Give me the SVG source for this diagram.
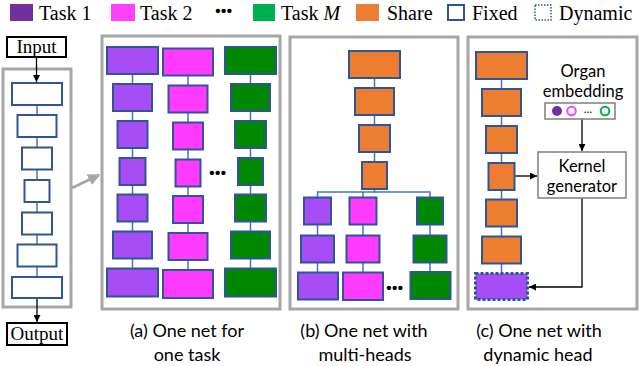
<svg xmlns="http://www.w3.org/2000/svg" width="640" height="366" viewBox="0 0 640 366">
<style>
.lg{font-family:"Liberation Serif","Times New Roman",serif;font-size:20px;fill:#000}
.io{font-family:"Liberation Serif","Times New Roman",serif;font-size:19px;fill:#000}
.cap{font-family:Lato,"Open Sans",sans-serif;font-size:18px;fill:#000;text-anchor:middle}
.lab{font-family:Lato,"Open Sans",sans-serif;font-size:16.5px;fill:#000;text-anchor:middle}
.dots{font-family:"Liberation Sans",Arial,sans-serif;font-size:15px;font-weight:bold;fill:#000;text-anchor:middle;letter-spacing:0.5px}
.panel{fill:none;stroke:#A6A6A6;stroke-width:3}
.blk{fill:#fff;stroke:#2F5597;stroke-width:2}
.p{fill:#A64DF5;stroke:#2F5597;stroke-width:2}
.m{fill:#FF3BFF;stroke:#2F5597;stroke-width:2}
.g{fill:#008800;stroke:#2F5597;stroke-width:2}
.o{fill:#ED7D31;stroke:#2F5597;stroke-width:2}
.con{fill:none;stroke:#4472C4;stroke-width:1.5}
.arr{fill:none;stroke:#000;stroke-width:1.3;marker-end:url(#ah)}
.gbox{fill:#fff;stroke:#7F7F7F;stroke-width:1.5}
</style>
<defs>
<marker id="ah" viewBox="0 0 10 10" refX="10" refY="5" markerWidth="7" markerHeight="7" markerUnits="userSpaceOnUse" orient="auto">
<path d="M0,0 L10,5 L0,10 z" fill="#000"/>
</marker>
<marker id="gah" viewBox="0 0 10 10" refX="9" refY="5" markerWidth="4" markerHeight="4" orient="auto">
<path d="M0,0 L10,5 L0,10 z" fill="#A6A6A6"/>
</marker>
</defs>

<g id="legend">
<rect x="10" y="4" width="23" height="17" fill="#7030A0"/>
<text class="lg" x="39" y="20">Task 1</text>
<rect x="111" y="4" width="24" height="17" fill="#FF40FF"/>
<text class="lg" x="140" y="20">Task 2</text>
<text class="dots" x="224" y="16">•••</text>
<rect x="253" y="4" width="22" height="17" fill="#00B050"/>
<text class="lg" x="281" y="20">Task <tspan font-style="italic">M</tspan></text>
<rect x="356" y="4" width="23" height="17" fill="#ED7D31"/>
<text class="lg" x="387" y="20">Share</text>
<rect x="448" y="5" width="16" height="15" fill="none" stroke="#2F5597" stroke-width="2"/>
<text class="lg" x="472" y="20">Fixed</text>
<rect x="535" y="5" width="16" height="15" fill="none" stroke="#2F5597" stroke-width="1.5" stroke-dasharray="1.5 1.5"/>
<text class="lg" x="559" y="20">Dynamic</text>
</g>

<g id="panels">
<rect class="panel" x="3" y="69" width="68" height="238"/>
<rect class="panel" x="102" y="36" width="178" height="273"/>
<rect class="panel" x="290" y="37" width="168" height="272"/>
<rect class="panel" x="468" y="37" width="169" height="272"/>
</g>

<g id="connectors">
<line class="con" x1="37" y1="94" x2="37" y2="288"/>
<line class="con" x1="132.5" y1="60" x2="132.5" y2="282"/>
<line class="con" x1="188" y1="62" x2="188" y2="284"/>
<line class="con" x1="250.5" y1="60" x2="250.5" y2="282"/>
<line class="con" x1="374.5" y1="64" x2="374.5" y2="192"/>
<polyline class="con" points="317.5,198 317.5,192 430,192 430,198"/>
<line class="con" x1="363" y1="192" x2="363" y2="198"/>
<line class="con" x1="317.5" y1="210" x2="317.5" y2="286"/>
<line class="con" x1="363" y1="210" x2="363" y2="286"/>
<line class="con" x1="430" y1="210" x2="430" y2="286"/>
<line class="con" x1="501.5" y1="65" x2="501.5" y2="286"/>
<line class="arr" x1="36.5" y1="57" x2="36.5" y2="82"/>
<line class="arr" x1="37" y1="299" x2="37" y2="322"/>
<line x1="72" y1="188" x2="99" y2="175" stroke="#A6A6A6" stroke-width="3" marker-end="url(#gah)"/>
<line class="arr" x1="514" y1="176" x2="537" y2="176"/>
<line class="arr" x1="582" y1="119" x2="582" y2="151"/>
<polyline class="arr" points="582,198 582,287 529,287"/>
</g>

<g id="input"><rect x="7" y="37" width="59" height="20" fill="#fff" stroke="#000" stroke-width="2"/><text class="io" x="36.5" y="53" text-anchor="middle">Input</text></g>
<g id="output"><rect x="7" y="323" width="60" height="22" fill="#fff" stroke="#000" stroke-width="2"/><text class="io" x="37" y="340" text-anchor="middle">Output</text></g>

<g id="fixed-net">
<rect class="blk" x="12" y="83" width="50" height="22"/>
<rect class="blk" x="17.5" y="115" width="39" height="22"/>
<rect class="blk" x="22" y="147.5" width="30" height="22"/>
<rect class="blk" x="24.5" y="180" width="25" height="22"/>
<rect class="blk" x="22" y="212.5" width="30" height="22"/>
<rect class="blk" x="17.5" y="244.5" width="39" height="22"/>
<rect class="blk" x="12" y="277" width="50" height="21"/>
</g>

<g id="net-a-task1">
<rect class="p" x="107" y="47" width="51" height="27"/>
<rect class="p" x="113" y="84" width="39" height="27"/>
<rect class="p" x="117.5" y="121" width="30" height="27"/>
<rect class="p" x="119.5" y="158" width="26" height="27"/>
<rect class="p" x="117.5" y="194.5" width="30" height="27"/>
<rect class="p" x="113" y="231.5" width="39" height="27"/>
<rect class="p" x="107" y="268.5" width="51" height="28"/>
</g>
<g id="net-a-task2">
<rect class="m" x="163" y="48.5" width="50" height="27"/>
<rect class="m" x="168.5" y="85.5" width="39" height="27"/>
<rect class="m" x="173" y="122.5" width="30" height="27"/>
<rect class="m" x="175.5" y="159.5" width="25" height="27"/>
<rect class="m" x="173" y="196" width="30" height="27"/>
<rect class="m" x="168.5" y="233" width="39" height="27"/>
<rect class="m" x="163" y="270" width="50" height="28"/>
</g>
<g id="net-a-taskM">
<rect class="g" x="225" y="47" width="51" height="27"/>
<rect class="g" x="231" y="84" width="39" height="27"/>
<rect class="g" x="235" y="121" width="31" height="27"/>
<rect class="g" x="238" y="158" width="25" height="27"/>
<rect class="g" x="235" y="194.5" width="31" height="27"/>
<rect class="g" x="231" y="231.5" width="39" height="27"/>
<rect class="g" x="225" y="268.5" width="51" height="28"/>
</g>
<text class="dots" x="218" y="178">•••</text>

<g id="net-b-shared">
<rect class="o" x="349" y="51" width="51" height="27"/>
<rect class="o" x="355" y="88" width="39" height="27"/>
<rect class="o" x="359" y="125" width="31" height="27"/>
<rect class="o" x="362" y="162" width="25" height="27"/>
</g>
<g id="net-b-head1">
<rect class="p" x="304" y="197.5" width="27" height="27"/>
<rect class="p" x="301" y="235.5" width="33" height="27"/>
<rect class="p" x="298" y="272.5" width="40" height="27"/>
</g>
<g id="net-b-head2">
<rect class="m" x="349.5" y="197.5" width="27" height="27"/>
<rect class="m" x="346.5" y="235.5" width="33" height="27"/>
<rect class="m" x="343" y="272.5" width="40" height="27.5"/>
</g>
<g id="net-b-headM">
<rect class="g" x="417" y="197.5" width="26" height="27"/>
<rect class="g" x="413.5" y="235.5" width="33" height="27"/>
<rect class="g" x="410.5" y="272" width="40" height="27"/>
</g>
<text class="dots" x="395" y="293">•••</text>

<g id="net-c-shared">
<rect class="o" x="476" y="52" width="51" height="27"/>
<rect class="o" x="482" y="89" width="39" height="27"/>
<rect class="o" x="486" y="126" width="31" height="27"/>
<rect class="o" x="488.5" y="163" width="26" height="27"/>
<rect class="o" x="486" y="199.5" width="31" height="27"/>
<rect class="o" x="482" y="236.5" width="39" height="27"/>
</g>
<g id="dynamic-head">
<rect x="475.5" y="273.5" width="52" height="26" fill="#A64DF5" stroke="#2F5597" stroke-width="3" stroke-dasharray="3 2"/>
</g>

<g id="organ-embedding">
<text class="lab" x="583" y="77">Organ</text>
<text class="lab" x="583" y="97">embedding</text>
<rect class="gbox" x="545" y="103" width="70" height="16"/>
<circle cx="557" cy="111" r="5" fill="#7030A0"/>
<circle cx="571.5" cy="111" r="4.3" fill="none" stroke="#FF40FF" stroke-width="2"/>
<text x="588" y="113" font-family="Lato,sans-serif" font-size="11" text-anchor="middle">…</text>
<circle cx="605" cy="111" r="4.3" fill="none" stroke="#00B050" stroke-width="2"/>
</g>
<g id="kernel-generator">
<rect class="gbox" x="538" y="152" width="88" height="46"/>
<text class="lab" x="582" y="172">Kernel</text>
<text class="lab" x="582" y="192">generator</text>
</g>

<g id="captions">
<text class="cap" x="187" y="337">(a) One net for</text>
<text class="cap" x="187" y="361">one task</text>
<text class="cap" x="364" y="337">(b) One net with</text>
<text class="cap" x="365" y="361">multi-heads</text>
<text class="cap" x="539" y="337">(c) One net with</text>
<text class="cap" x="538" y="361">dynamic head</text>
</g>
</svg>
